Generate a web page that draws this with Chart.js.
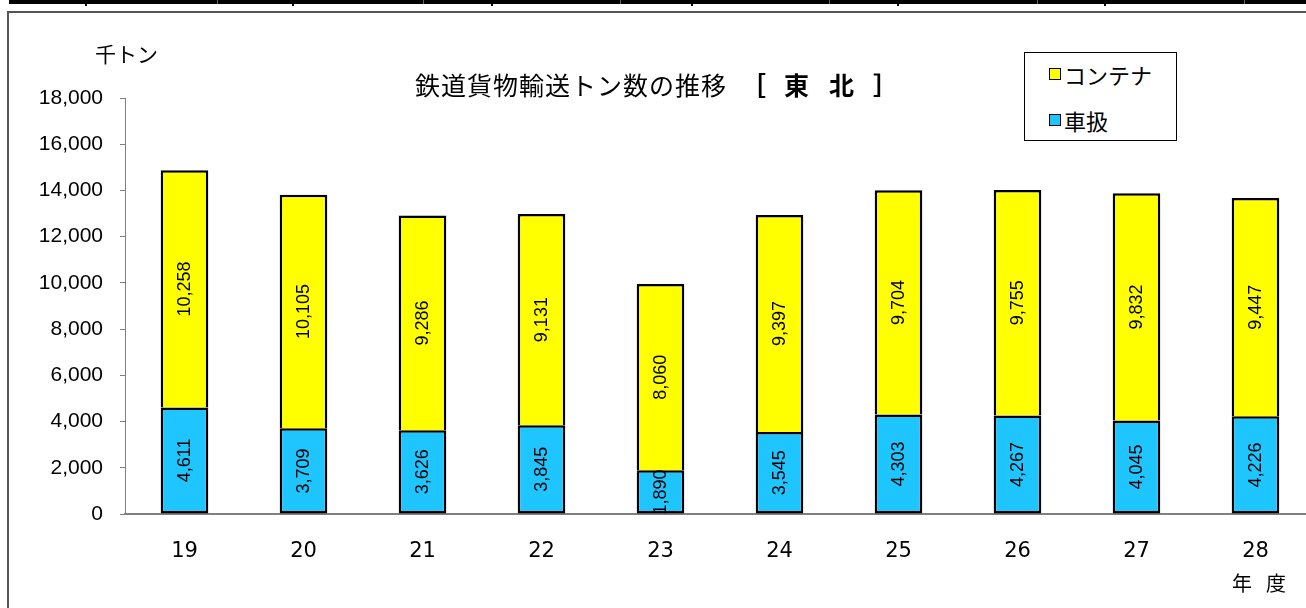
<!DOCTYPE html>
<html lang="ja">
<head>
<meta charset="utf-8">
<title>鉄道貨物輸送トン数の推移 [東北]</title>
<script src="https://cdn.jsdelivr.net/npm/chart.js@4.4.1/dist/chart.umd.min.js"></script>
<style>
  html, body { margin: 0; padding: 0; background: #fff; overflow: hidden; }
  body { width: 1306px; height: 608px; position: relative; font-family: "Noto Sans CJK JP", sans-serif; }
  #topbar { position: absolute; left: 9px; top: 0; width: 1297px; height: 4px; background: #000; }
  .tk { position: absolute; top: 0; width: 2px; height: 6px; background: #000; }
  .tk.thin { width: 1px; height: 4px; background: #666; }
  #frame { position: absolute; left: 7px; top: 11px; width: 1310px; height: 610px;
           border-left: 2px solid #555; border-top: 2px solid #555; }
  #chart { position: absolute; left: 0; top: 0; }
  #title { position: absolute; left: 415px; top: 69px; white-space: nowrap;
           font-size: 25px; line-height: 30px; letter-spacing: 1px; color: #000; }
  #title b { font-weight: bold; display: inline-block; }
  #unit { position: absolute; left: 95px; top: 38px; font-size: 21px; }
  #xunit { position: absolute; left: 1232px; top: 568px; font-size: 20px; letter-spacing: 14px; }
  #legend { position: absolute; left: 1024px; top: 52px; width: 151px; height: 87px; border: 1px solid #000; background: #fff; }
  .li { position: absolute; left: 24px; font-size: 22px; line-height: 26px; display: flex; align-items: center; }
  .sw { width: 10px; height: 10px; border: 1px solid #000; margin-right: 3px; }
</style>
</head>
<body>
<div id="topbar"></div>
<div id="frame"></div>
<canvas id="chart" width="1320" height="608"></canvas>
<div id="title">鉄道貨物輸送トン数の推移<b style="margin-left:14px">［</b><b style="margin-left:17px">東</b><b style="margin-left:19px">北</b><b style="margin-left:18px">］</b></div>
<div id="unit">千トン</div>
<div id="xunit">年度</div>
<div id="legend"></div>
<script>
const years = ['19', '20', '21', '22', '23', '24', '25', '26', '27', '28'];
const shaValues = [4611, 3709, 3626, 3845, 1890, 3545, 4303, 4267, 4045, 4226];
const containerValues = [10258, 10105, 9286, 9131, 8060, 9397, 9704, 9755, 9832, 9447];
const seriesNames = ['車扱', 'コンテナ'];
const yTicks = { min: 0, max: 18000, step: 2000 };

// little marks on the top rule (table above the chart)
[85, 292, 491, 691, 897, 1104].forEach(x => addMark(x, 'tk'));
[217, 423, 620, 829, 1037, 1244].forEach(x => addMark(x, 'tk thin'));
function addMark(x, cls) {
  const d = document.createElement('div');
  d.className = cls;
  d.style.left = x + 'px';
  document.body.appendChild(d);
}

const blue = '#1EC5FF';
const yellow = '#FFFF00';

const barLabels = {
  id: 'barLabels',
  afterDatasetsDraw(chart) {
    const ctx = chart.ctx;
    ctx.save();
    ctx.font = '18px "Liberation Sans", Arial, sans-serif';
    ctx.fillStyle = '#000';
    ctx.textAlign = 'center';
    ctx.textBaseline = 'middle';
    chart.data.datasets.forEach((ds, i) => {
      chart.getDatasetMeta(i).data.forEach((bar, j) => {
        const p = bar.getProps(['x', 'y', 'base'], true);
        const cy = (p.y + p.base) / 2;
        ctx.save();
        ctx.translate(p.x, cy);
        ctx.rotate(-Math.PI / 2);
        ctx.fillText(ds.data[j].toLocaleString('en-US'), 0, 1);
        ctx.restore();
      });
    });
    ctx.restore();
  }
};

const chart = new Chart(document.getElementById('chart'), {
  type: 'bar',
  data: {
    labels: years,
    datasets: [{
      label: seriesNames[0],
      data: shaValues,
      backgroundColor: blue,
      borderColor: '#000',
      borderWidth: 2.5,
      borderSkipped: false,
      barPercentage: 0.4,
      categoryPercentage: 1
    }, {
      label: seriesNames[1],
      data: containerValues,
      backgroundColor: yellow,
      borderColor: '#000',
      borderWidth: 2.5,
      borderSkipped: 'bottom',
      barPercentage: 0.4,
      categoryPercentage: 1
    }]
  },
  options: {
    responsive: false,
    animation: false,
    devicePixelRatio: 1,
    layout: { padding: { top: 98, right: 5, left: 0, bottom: 0 } },
    plugins: {
      legend: { display: false },
      title: { display: false },
      tooltip: { enabled: false }
    },
    scales: {
      x: {
        stacked: true,
        grid: { display: false },
        border: { display: true, color: '#808080', width: 2 },
        ticks: {
          color: '#000',
          padding: 17,
          font: { family: '"DejaVu Sans", sans-serif', size: 21 }
        },
        afterFit(s) { s.height = 94; }
      },
      y: {
        stacked: true,
        min: yTicks.min,
        max: yTicks.max,
        grid: { display: true, drawOnChartArea: false, drawTicks: true, tickLength: 5, color: '#808080' },
        border: { display: true, color: '#808080', width: 1 },
        ticks: {
          stepSize: yTicks.step,
          color: '#000',
          padding: 17,
          font: { family: '"Liberation Sans", Arial, sans-serif', size: 21 },
          callback: v => v.toLocaleString('en-US')
        },
        afterFit(s) { s.width = 125; }
      }
    }
  },
  plugins: [barLabels]
});

// legend built from the datasets, top entry = top stack
const legend = document.getElementById('legend');
[1, 0].forEach((i, k) => {
  const ds = chart.data.datasets[i];
  const row = document.createElement('div');
  row.className = 'li';
  row.style.top = (k === 0 ? 8 : 54) + 'px';
  row.innerHTML = '<span class="sw" style="background:' + ds.backgroundColor + '"></span>' + ds.label;
  legend.appendChild(row);
});
</script>
</body>
</html>
